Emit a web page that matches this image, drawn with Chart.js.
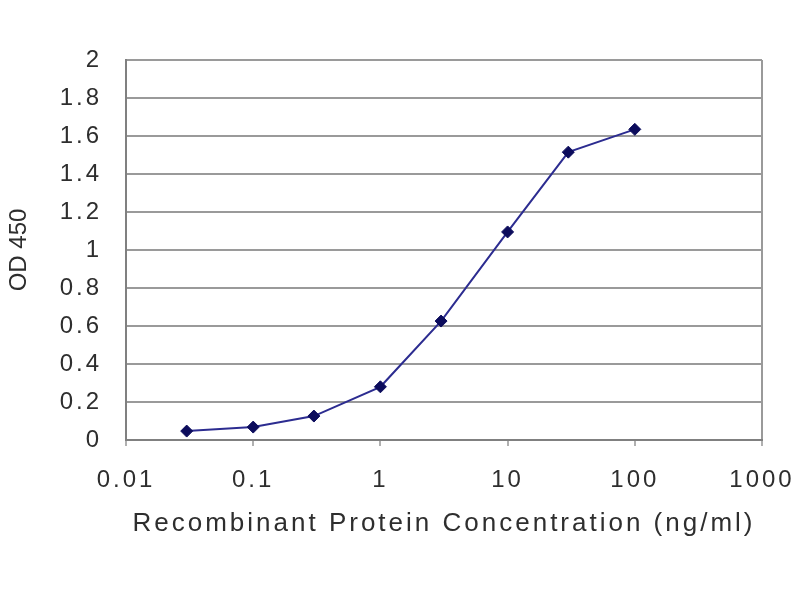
<!DOCTYPE html>
<html>
<head>
<meta charset="utf-8">
<style>
  html, body { margin: 0; padding: 0; background: #ffffff; }
  #wrap { width: 800px; height: 600px; }
</style>
<script src="https://cdn.jsdelivr.net/npm/chart.js@4.4.0/dist/chart.umd.min.js"></script>
</head>
<body>
<div id="wrap"><canvas id="c" width="800" height="600"></canvas></div>
<script>
// ---- data ----
const concentrations = [0.03, 0.1, 0.3, 1, 3, 10, 30, 100];
const od450 = [0.047, 0.068, 0.126, 0.28, 0.626, 1.095, 1.515, 1.635];
const xTickValues = [0.01, 0.1, 1, 10, 100, 1000];
const xTickLabels = ['0.01', '0.1', '1', '10', '100', '1000'];
const yTickLabels = ['0', '0.2', '0.4', '0.6', '0.8', '1', '1.2', '1.4', '1.6', '1.8', '2'];
const xTitle = 'Recombinant Protein Concentration (ng/ml)';
const yTitle = 'OD 450';

const points = concentrations.map((c, i) => ({ x: c, y: od450[i] }));
const textColor = '#2e2e2e';
const fontFamily = '"Liberation Sans", Arial, sans-serif';

const spacingPlugin = {
  id: 'spacing',
  beforeDraw(chart) {
    chart.ctx.letterSpacing = '3px';
    const ys = chart.scales.y;
    if (ys && !ys._patchedTitle) {
      const orig = ys.drawTitle.bind(ys);
      ys.drawTitle = function () {
        const prev = chart.ctx.letterSpacing;
        chart.ctx.letterSpacing = '0px';
        orig();
        chart.ctx.letterSpacing = prev;
      };
      ys._patchedTitle = true;
    }
  }
};

new Chart(document.getElementById('c'), {
  type: 'line',
  data: {
    datasets: [{
      data: points,
      borderColor: '#2c2c90',
      borderWidth: 2,
      backgroundColor: '#0c0c5c',
      pointBackgroundColor: '#0c0c5c',
      pointBorderColor: '#0c0c5c',
      pointStyle: 'rectRot',
      pointRadius: 6,
      pointBorderWidth: 1,
      tension: 0,
      fill: false
    }]
  },
  options: {
    responsive: false,
    animation: false,
    devicePixelRatio: 1,
    layout: { padding: { left: 0, top: 60, right: 38, bottom: 0 } },
    plugins: {
      legend: { display: false },
      tooltip: { enabled: false }
    },
    scales: {
      x: {
        type: 'logarithmic',
        min: 0.01,
        max: 1000,
        afterBuildTicks(scale) {
          scale.ticks = xTickValues.map(v => ({ value: v, major: true }));
        },
        afterFit(scale) {
          scale.height = 160;
          scale.paddingLeft = 0;
          scale.paddingRight = 0;
        },
        ticks: {
          autoSkip: false,
          maxRotation: 0,
          padding: 20,
          color: textColor,
          font: { family: fontFamily, size: 24 },
          callback: (v, i) => xTickLabels[i]
        },
        grid: {
          drawOnChartArea: true,
          color: ctx => (ctx.index === xTickValues.length - 1 ? '#9a9a9a' : 'rgba(0,0,0,0)'),
          lineWidth: 2,
          tickColor: '#b0b0b0',
          tickLength: 6
        },
        border: { display: true, color: '#808080', width: 2 },
        title: {
          display: true,
          text: xTitle,
          color: textColor,
          font: { family: fontFamily, size: 26 },
          padding: { top: 0, bottom: 61 }
        }
      },
      y: {
        type: 'linear',
        min: 0,
        max: 2,
        afterBuildTicks(scale) {
          scale.ticks = yTickLabels.map((t, i) => ({ value: i * 0.2 }));
        },
        afterFit(scale) {
          scale.width = 126;
          scale.paddingTop = 0;
          scale.paddingBottom = 0;
        },
        ticks: {
          padding: 24,
          color: textColor,
          font: { family: fontFamily, size: 24 },
          callback: (v, i) => yTickLabels[i]
        },
        grid: {
          color: '#9a9a9a',
          lineWidth: 2,
          drawTicks: false
        },
        border: { display: true, color: '#808080', width: 2 },
        title: {
          display: true,
          text: yTitle,
          color: textColor,
          font: { family: fontFamily, size: 24 },
          padding: { top: 5, bottom: 0 }
        }
      }
    }
  },
  plugins: [spacingPlugin]
});
</script>
</body>
</html>
